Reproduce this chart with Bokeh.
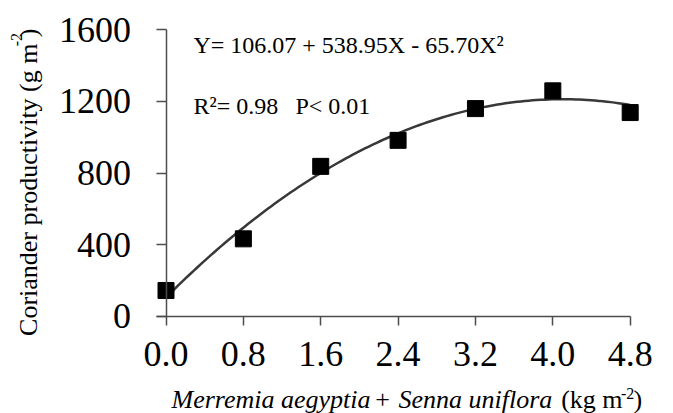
import numpy as np
from bokeh.plotting import figure
from bokeh.models import Range1d, Label, FixedTicker, PrintfTickFormatter
from bokeh.embed import file_html
from bokeh.resources import INLINE

# ---- data ----
weed_biomass = [0.0, 0.8, 1.6, 2.4, 3.2, 4.0, 4.8]          # kg m-2
productivity = [145, 433, 837, 982, 1159, 1258, 1137]       # g m-2
fit_coeffs = [106.07, 538.95, -65.70]                       # Y = a + bX + cX^2 (from chart)
x_ticks = [0.0, 0.8, 1.6, 2.4, 3.2, 4.0, 4.8]
y_ticks = [0, 400, 800, 1200, 1600]
equation_text = "Y= 106.07 + 538.95X - 65.70X\u00b2"
r2_text = "R\u00b2= 0.98"
p_text = "P< 0.01"
y_title_parts = ["Coriander productivity (g m", "-2", ")"]
x_title_parts = ["Merremia aegyptia", "+", "Senna uniflora", "(kg m", "-2", ")"]

FONT = "Liberation Serif"
AXIS_COLOR = "#4d4d4d"

# the frame covers the whole canvas; axes are drawn at x = 0 and y = 0
p = figure(width=673, height=413,
           min_border_left=0, min_border_right=0, min_border_top=0, min_border_bottom=0,
           x_range=Range1d(-1.7115, 5.248), y_range=Range1d(-540.8, 1761.7),
           output_backend="svg", toolbar_location=None)
p.outline_line_color = None
p.xgrid.visible = False
p.ygrid.visible = False
p.background_fill_color = "white"
p.border_fill_color = "white"

# fitted curve
xs = np.linspace(min(weed_biomass), max(weed_biomass), 120)
ys = fit_coeffs[0] + fit_coeffs[1] * xs + fit_coeffs[2] * xs ** 2
p.line(xs, ys, line_color="#383838", line_width=2.5)

# observations
p.scatter(weed_biomass, productivity, marker="square", size=16,
          fill_color="black", line_color="black")

# axes
for ax in (p.xaxis[0], p.yaxis[0]):
    ax.fixed_location = 0
    ax.axis_line_color = AXIS_COLOR
    ax.axis_line_width = 1.5
    ax.major_tick_line_color = AXIS_COLOR
    ax.major_tick_line_width = 1.5
    ax.minor_tick_line_color = None
    ax.major_tick_in = 0
    ax.major_label_text_font = FONT
    ax.major_label_text_font_size = "36px"
    ax.major_label_text_color = "black"

p.xaxis.ticker = FixedTicker(ticks=x_ticks)
p.xaxis.formatter = PrintfTickFormatter(format="%.1f")
p.xaxis.bounds = (-0.1, 4.8)
p.xaxis.major_tick_out = 9
p.xaxis.major_label_standoff = 17

p.yaxis.ticker = FixedTicker(ticks=y_ticks)
p.yaxis.bounds = (0, 1600)
p.yaxis.major_tick_out = 10
p.yaxis.major_label_standoff = 25

# text
def add_label(x, y, text, size, style="normal", align="left", baseline="alphabetic", angle=0.0):
    p.add_layout(Label(x=x, y=y, text=text, text_font=FONT, text_font_size=size,
                       text_font_style=style, text_align=align, text_baseline=baseline,
                       text_color="black", angle=angle))

add_label(0.284, 1511, equation_text, "24px")
add_label(0.284, 1176, r2_text, "24px")
add_label(1.339, 1176, p_text, "24px")

# y title (rotated, with raised exponent)
add_label(-1.422, 1522, y_title_parts[0], "26px", align="right", baseline="middle", angle=np.pi / 2)
add_label(-1.546, 1544, y_title_parts[1], "16px", align="center", baseline="middle", angle=np.pi / 2)
add_label(-1.422, 1605, y_title_parts[2], "26px", align="right", baseline="middle", angle=np.pi / 2)

# x title (mixed italic / upright, with raised exponent)
add_label(0.057, -463, x_title_parts[0], "26px", style="italic")
add_label(2.239, -463, x_title_parts[1], "26px", align="center")
add_label(2.404, -463, x_title_parts[2], "26px", style="italic")
add_label(4.721, -463, x_title_parts[3], "26px", align="right")
add_label(4.774, -429, x_title_parts[4], "16px", align="center", baseline="middle")
add_label(4.835, -463, x_title_parts[5], "26px")

open("out.html", "w").write(file_html(p, INLINE))
